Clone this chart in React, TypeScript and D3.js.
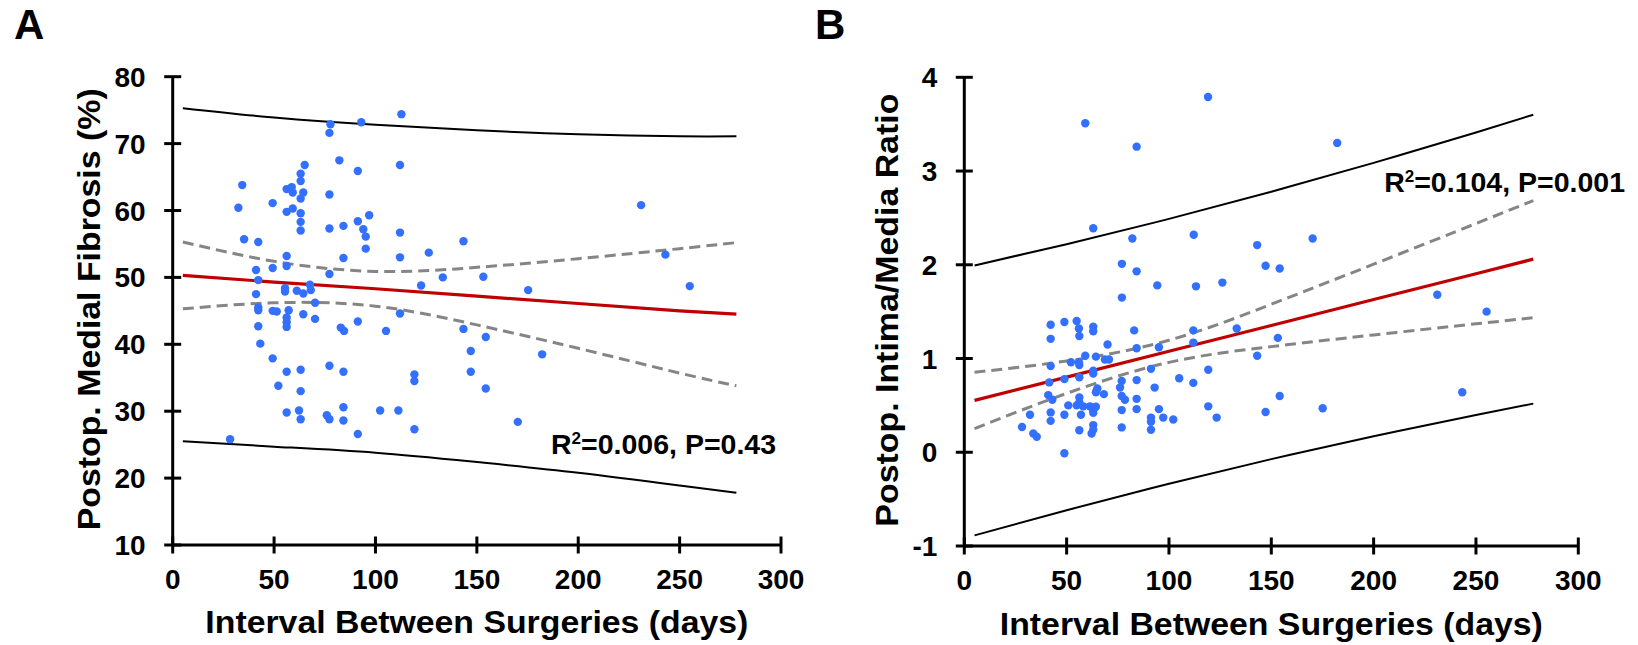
import React from "react";
import * as d3 from "d3";

// ---------- Panel A data: Postop. Medial Fibrosis (%) ----------
const daysA = [
  28.3, 32.4, 34.3, 35.2, 41.1, 41.1, 42.2, 42.2, 42.2, 42.2, 42.2, 43.2,
  49.3, 49.3, 49.3, 51.3, 49.3, 52.1, 56.2, 58.7, 59.2, 56.2, 59.2, 56.2,
  56.2, 55.4, 55.4, 57.2, 56.2, 56.2, 56.2, 56.2, 56.2, 61.2, 62.3, 65.1,
  63.1, 63.1, 64.4, 63.1, 63.1, 63.1, 63.1, 64.4, 64.4, 63.1, 63.1, 63.1,
  67.7, 68.1, 70.2, 70.2, 77.8, 77.3, 77.3, 77.3, 77.3, 77.3, 76.0, 77.3,
  82.2, 84.2, 84.2, 82.9, 84.5, 84.2, 84.2, 84.2, 93.0, 91.3, 91.3, 94.0,
  95.2, 96.9, 95.2, 91.3, 91.3, 102.3, 105.2, 111.3, 112.8, 112.1, 112.1, 112.1,
  112.1, 119.2, 119.2, 119.2, 122.5, 126.3, 133.2, 143.4, 143.4, 147.0, 147.0, 153.2,
  154.4, 154.4, 170.2, 175.3, 182.2, 231.0, 243.0, 255.0,
];
const valuesA = [
  25.8, 60.4, 63.8, 55.7, 51.1, 47.5, 55.3, 49.6, 45.5, 45.1, 42.7, 40.1,
  61.1, 51.4, 45.0, 44.9, 37.9, 33.8, 63.2, 63.5, 62.7, 59.8, 60.3, 53.2,
  51.7, 48.4, 47.9, 45.1, 44.0, 43.3, 42.6, 35.9, 29.8, 48.0, 30.1, 66.8,
  65.5, 64.4, 62.7, 61.8, 59.6, 58.3, 57.0, 47.6, 44.5, 36.2, 33.0, 28.8,
  48.9, 48.1, 46.2, 43.8, 72.9, 71.6, 62.4, 57.3, 50.5, 36.8, 29.4, 28.8,
  67.5, 57.7, 52.9, 42.5, 42.0, 35.9, 30.6, 28.6, 73.2, 65.9, 58.4, 57.2,
  56.1, 59.3, 54.3, 43.4, 26.6, 30.1, 42.0, 30.1, 74.4, 66.8, 56.7, 53.0,
  44.6, 35.5, 34.5, 27.3, 48.8, 53.7, 50.0, 55.4, 42.3, 39.0, 35.9, 50.1,
  41.1, 33.4, 28.4, 48.1, 38.5, 60.8, 53.4, 48.7,
];

// ---------- Panel B data: Postop. Intima/Media Ratio ----------
const daysB = [
  59.1, 84.2, 119.1, 63.0, 82.1, 112.1, 77.0, 84.2, 94.3, 113.2, 126.1, 77.0,
  182.2, 143.1, 170.2, 147.2, 154.1, 231.1, 255.2, 133.1, 153.2, 143.1, 119.2, 119.2,
  123.3, 147.2, 154.1, 175.1, 243.3,
  42.2, 48.9, 54.9, 56.0, 56.2, 63.0, 63.0, 42.2, 83.0, 111.9, 111.9, 70.0,
  84.2, 95.1, 59.1, 64.3, 68.7, 70.7, 52.1, 56.0, 56.2, 42.2, 91.2, 63.0,
  63.0, 56.2, 48.9, 41.5, 76.9, 76.1, 84.2, 105.0, 111.9, 93.0, 65.0, 64.3,
  68.2, 41.0, 43.0, 76.9, 78.5, 84.2, 56.2, 56.2, 50.8, 54.9, 58.1, 61.4,
  64.3, 63.0, 57.0, 63.0, 42.2, 42.2, 48.9, 32.1, 76.9, 84.2, 95.1, 97.2,
  102.1, 91.2, 91.2, 91.2, 28.2, 63.0, 63.0, 62.2, 56.2, 76.9, 33.7, 35.4,
  48.9,
];
const valuesB = [
  3.51, 3.26, 3.79, 2.39, 2.28, 2.32, 2.01, 1.93, 1.78, 1.77, 1.81, 1.65,
  3.30, 2.21, 2.28, 1.99, 1.96, 1.68, 1.50, 1.32, 1.22, 1.03, 0.88, 0.49,
  0.37, 0.43, 0.60, 0.47, 0.64,
  1.36, 1.39, 1.40, 1.32, 1.24, 1.34, 1.29, 1.21, 1.30, 1.30, 1.17, 1.15,
  1.11, 1.12, 1.03, 1.02, 0.99, 0.99, 0.96, 0.96, 0.93, 0.92, 0.89, 0.87,
  0.84, 0.80, 0.78, 0.745, 0.76, 0.69, 0.77, 0.79, 0.74, 0.69, 0.68, 0.64,
  0.62, 0.61, 0.56, 0.60, 0.56, 0.57, 0.585, 0.53, 0.50, 0.50, 0.49, 0.49,
  0.485, 0.45, 0.40, 0.42, 0.425, 0.335, 0.40, 0.40, 0.45, 0.46, 0.46, 0.37,
  0.35, 0.37, 0.325, 0.24, 0.27, 0.29, 0.24, 0.20, 0.235, 0.265, 0.20, 0.165,
  -0.01,
];

// ---------- Regression fit, 95% CI (dashed) and prediction bands (black) ----------
const bandDays = [5, 50, 100, 150, 200, 250, 278];

const fitA = [50.3, 49.3, 48.3, 47.2, 46.1, 45.0, 44.5];
const ciUpperA = [55.3, 52.4, 50.9, 51.5, 52.8, 54.3, 55.2];
const ciLowerA = [45.3, 46.2, 45.7, 42.9, 39.4, 35.7, 33.8];
const piUpperA = [75.3, 73.9, 72.8, 72.0, 71.4, 71.1, 71.1];
const piLowerA = [25.5, 24.7, 23.8, 22.4, 20.8, 18.9, 17.8];

const fitB = [0.553, 0.801, 1.077, 1.353, 1.629, 1.905, 2.06];
const ciUpperB = [0.853, 0.974, 1.195, 1.579, 2.006, 2.44, 2.685];
const ciLowerB = [0.253, 0.628, 0.959, 1.127, 1.252, 1.37, 1.435];
const piUpperB = [1.993, 2.22, 2.49, 2.78, 3.087, 3.412, 3.601];
const piLowerB = [-0.887, -0.618, -0.336, -0.073, 0.171, 0.398, 0.519];

// ---------- Axis tick values ----------
const xTicks = [0, 50, 100, 150, 200, 250, 300];
const yTicksA = [10, 20, 30, 40, 50, 60, 70, 80];
const yTicksB = [-1, 0, 1, 2, 3, 4];

const FONT = "'Liberation Sans', Arial, Helvetica, sans-serif";
const DOT = "#3370FF";
const RED = "#C00000";
const GRAY = "#858585";

type PanelProps = {
  letter: string;
  letterX: number;
  xRange: [number, number];
  yDomain: [number, number];
  yRange: [number, number];
  yTicks: number[];
  days: number[];
  values: number[];
  fit: number[];
  ciU: number[];
  ciL: number[];
  piU: number[];
  piL: number[];
  yTitle: string;
  yTitleX: number;
  yTitleLen: number;
  xTitleY: number;
  xLabelY: number;
  stat: [string, string];
  statX: number;
  statY: number;
};

function Panel(p: PanelProps) {
  const x = d3.scaleLinear().domain([0, 300]).range(p.xRange);
  const y = d3.scaleLinear().domain(p.yDomain).range(p.yRange);
  const curve = d3
    .line<number>()
    .x((_, i) => x(bandDays[i]))
    .y((v) => y(v))
    .curve(d3.curveNatural);
  const straight = d3
    .line<number>()
    .x((_, i) => x(bandDays[i]))
    .y((v) => y(v));
  const x0 = x(0);
  const yBase = y(p.yDomain[0]);
  const yTop = y(p.yDomain[1]);
  const xEnd = x(300);
  const tick = 8.5;
  const cx = (x0 + xEnd) / 2;
  const cy = (yBase + yTop) / 2;
  return (
    <g fontFamily={FONT} fontWeight="bold" fill="#000">
      <text x={p.letterX} y={39} fontSize={42}>
        {p.letter}
      </text>
      {/* bands */}
      <path d={curve(p.piU) || ""} fill="none" stroke="#000" strokeWidth={2} />
      <path d={curve(p.piL) || ""} fill="none" stroke="#000" strokeWidth={2} />
      <path d={curve(p.ciU) || ""} fill="none" stroke={GRAY} strokeWidth={3} strokeDasharray="11,6" />
      <path d={curve(p.ciL) || ""} fill="none" stroke={GRAY} strokeWidth={3} strokeDasharray="11,6" />
      <path d={straight(p.fit) || ""} fill="none" stroke={RED} strokeWidth={3.2} />
      {/* dots */}
      {p.days.map((d, i) => (
        <circle key={i} cx={x(d)} cy={y(p.values[i])} r={4.2} fill={DOT} />
      ))}
      {/* axes */}
      <line x1={x0} x2={xEnd} y1={yBase} y2={yBase} stroke="#000" strokeWidth={3} />
      <line x1={x0} x2={x0} y1={yBase + 1.5} y2={yTop} stroke="#000" strokeWidth={3} />
      {xTicks.map((t) => (
        <g key={"x" + t}>
          <line x1={x(t)} x2={x(t)} y1={yBase - tick} y2={yBase + tick} stroke="#000" strokeWidth={3} />
          <text x={x(t)} y={p.xLabelY} fontSize={28} textAnchor="middle">
            {t}
          </text>
        </g>
      ))}
      {p.yTicks.map((t) => (
        <g key={"y" + t}>
          <line x1={x0 - tick} x2={x0 + tick} y1={y(t)} y2={y(t)} stroke="#000" strokeWidth={3} />
          <text x={x0 - 27} y={y(t)} dy="0.36em" fontSize={28} textAnchor="end">
            {t}
          </text>
        </g>
      ))}
      <text
        x={cx}
        y={p.xTitleY}
        fontSize={32}
        textAnchor="middle"
        textLength={543}
        lengthAdjust="spacingAndGlyphs"
      >
        Interval Between Surgeries (days)
      </text>
      <text
        transform={`translate(${p.yTitleX},${cy - 1.5}) rotate(-90)`}
        fontSize={32}
        textAnchor="middle"
        textLength={p.yTitleLen}
        lengthAdjust="spacingAndGlyphs"
      >
        {p.yTitle}
      </text>
      <text x={p.statX} y={p.statY} fontSize={28.5} textAnchor="end">
        <tspan>R</tspan>
        <tspan fontSize={17} dy={-10}>
          2
        </tspan>
        <tspan dy={10}>{"=" + p.stat[0] + ", P=" + p.stat[1]}</tspan>
      </text>
    </g>
  );
}

export default function App() {
  return (
    <svg
      width={1638}
      height={645}
      viewBox="0 0 1638 645"
      style={{ position: "absolute", left: 0, top: 0, background: "#fff" }}
    >
      <rect width={1638} height={645} fill="#fff" />
      <Panel
        letter="A"
        letterX={14}
        xRange={[172.7, 781]}
        yDomain={[10, 80]}
        yRange={[545, 76.7]}
        yTicks={yTicksA}
        days={daysA}
        values={valuesA}
        fit={fitA}
        ciU={ciUpperA}
        ciL={ciLowerA}
        piU={piUpperA}
        piL={piLowerA}
        yTitle="Postop. Medial Fibrosis (%)"
        yTitleX={100}
        yTitleLen={442}
        xTitleY={633}
        xLabelY={588.5}
        stat={["0.006", "0.43"]}
        statX={776}
        statY={454}
      />
      <Panel
        letter="B"
        letterX={815}
        xRange={[964.3, 1578.3]}
        yDomain={[-1, 4]}
        yRange={[546, 77.3]}
        yTicks={yTicksB}
        days={daysB}
        values={valuesB}
        fit={fitB}
        ciU={ciUpperB}
        ciL={ciLowerB}
        piU={piUpperB}
        piL={piLowerB}
        yTitle="Postop. Intima/Media Ratio"
        yTitleX={898}
        yTitleLen={433}
        xTitleY={635}
        xLabelY={590}
        stat={["0.104", "0.001"]}
        statX={1625}
        statY={192}
      />
    </svg>
  );
}
